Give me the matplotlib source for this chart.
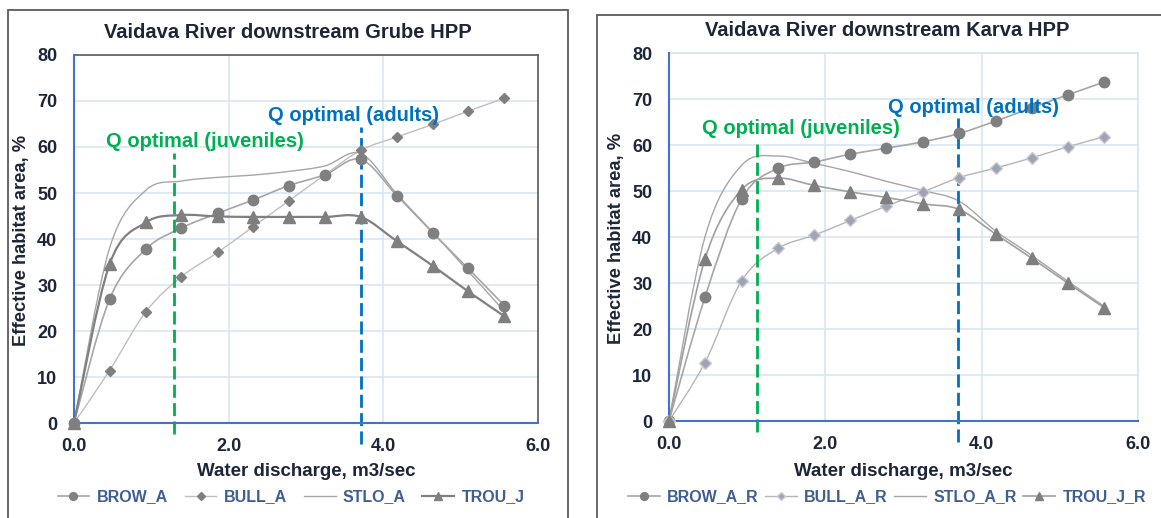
import matplotlib
matplotlib.use("Agg")
import matplotlib.pyplot as plt
from matplotlib.path import Path
from matplotlib.patches import PathPatch, Rectangle
from matplotlib.lines import Line2D
import numpy as np

plt.rcParams["font.family"] = ["Liberation Sans", "DejaVu Sans"]

# discharge steps, m3/sec (same for both sites)
discharge = [0.0, 0.46, 0.93, 1.39, 1.86, 2.32, 2.78, 3.25, 3.71, 4.18, 4.64, 5.10, 5.57]

# Grube HPP
grube_brow = [0, 26.9, 37.8, 42.4, 45.6, 48.5, 51.6, 54.0, 57.3, 49.4, 41.4, 33.6, 25.5]
grube_bull = [0, 11.4, 24.2, 31.8, 37.1, 42.7, 48.3, 54.0, 59.3, 62.2, 64.9, 67.8, 70.6]
grube_stlo = [0, 38.0, 50.6, 52.6, 53.4, 53.9, 54.7, 55.9, 58.6, 49.7, 41.5, 33.0, 24.3]
grube_trou = [0, 34.5, 43.6, 45.2, 44.9, 44.8, 44.8, 44.8, 44.8, 39.5, 34.2, 28.6, 23.2]
grube_q_juv = 1.29
grube_q_adult = 3.71

# Karva HPP
karva_brow = [0, 26.9, 48.3, 54.9, 56.3, 58.0, 59.3, 60.7, 62.5, 65.2, 68.1, 70.9, 73.7]
karva_bull = [0, 12.7, 30.5, 37.5, 40.4, 43.6, 46.7, 49.8, 52.9, 55.0, 57.2, 59.6, 61.8]
karva_stlo = [0, 40.0, 55.6, 57.6, 56.0, 54.2, 52.1, 50.1, 47.8, 41.3, 36.0, 30.4, 24.9]
karva_trou = [0, 35.2, 50.3, 52.8, 51.2, 49.8, 48.6, 47.2, 46.0, 40.6, 35.4, 30.0, 24.6]
karva_q_juv = 1.13
karva_q_adult = 3.70

TEXT_DARK = "#1c2638"
LEGEND_TXT = "#3f5f8f"
AXIS_BLUE = "#4472c4"
GRID = "#d5e5f5"
GREEN = "#00b050"
BLUE = "#0070c0"

W, H = 1161, 518
fig = plt.figure(figsize=(W / 100, H / 100), dpi=100)


def fx(px):
    return px / W


def fy(py):
    return 1 - py / H


def smooth_path(xs, ys):
    # excel-like smoothed line (catmull-rom as cubic bezier)
    pts = np.column_stack([xs, ys]).astype(float)
    n = len(pts)
    verts = [pts[0]]
    codes = [Path.MOVETO]
    for i in range(n - 1):
        p0 = pts[i - 1] if i > 0 else pts[i]
        p1 = pts[i]
        p2 = pts[i + 1]
        p3 = pts[i + 2] if i + 2 < n else pts[i + 1]
        verts += [p1 + (p2 - p0) / 6, p2 - (p3 - p1) / 6, p2]
        codes += [Path.CURVE4] * 3
    return Path(verts, codes)


def draw_series(ax, ys, line_color, lw, marker=None, mcolor=None, ms=7, mec=None):
    ax.add_patch(PathPatch(smooth_path(discharge, ys), fill=False,
                           edgecolor=line_color, lw=lw, zorder=2))
    if marker:
        ax.plot(discharge, ys, ls="none", marker=marker, ms=ms, color=mcolor,
                mec=mec or mcolor, zorder=4, clip_on=False)
    return Line2D([], [], color=line_color, lw=lw, marker=marker, ms=ms * 0.75,
                  mfc=mcolor, mec=mec or mcolor)


def setup_axes(rect, top_right_color):
    ax = fig.add_axes(rect)
    ax.set_xlim(0, 6)
    ax.set_ylim(0, 80)
    ax.set_xticks([0, 2, 4, 6])
    ax.set_xticklabels(["0.0", "2.0", "4.0", "6.0"])
    ax.set_yticks(range(0, 81, 10))
    ax.grid(True, color=GRID, lw=1.1, zorder=0)
    ax.set_axisbelow(True)
    ax.tick_params(length=0, labelsize=13, labelcolor=TEXT_DARK)
    ax.tick_params(axis="y", pad=12)
    ax.tick_params(axis="x", pad=11)
    for lab in ax.get_xticklabels() + ax.get_yticklabels():
        lab.set_fontweight("bold")
    for s in ["left", "bottom"]:
        ax.spines[s].set_color(AXIS_BLUE)
        ax.spines[s].set_linewidth(1.5)
        ax.spines[s].set_zorder(3)
    for s in ["top", "right"]:
        ax.spines[s].set_color(top_right_color)
        ax.spines[s].set_linewidth(1.2)
    return ax


def q_lines(ax, xj, xa, yj_top, ya_top):
    ax.plot([xj, xj], [-2.3, yj_top], color=GREEN, lw=2, dashes=(4.7, 1.9),
            clip_on=False, zorder=3)
    ax.plot([xa, xa], [-4.5, ya_top], color=BLUE, lw=2, dashes=(4.7, 1.9),
            clip_on=False, zorder=3)


# panel frames
fig.add_artist(Rectangle((fx(8), fy(530)), fx(560), fy(10) - fy(530),
                         fill=False, ec="#5a5a5a", lw=1.3))
fig.add_artist(Rectangle((fx(597), fy(530)), fx(600), fy(15) - fy(530),
                         fill=False, ec="#5a5a5a", lw=1.3))

# ---- Grube
ax1 = setup_axes([fx(74), fy(423), fx(537.7) - fx(74), fy(55) - fy(423)], "#5a5a5a")
h1 = [
    draw_series(ax1, grube_brow, "#a6a6a6", 1.2, "o", "#808080", 7.5),
    draw_series(ax1, grube_bull, "#bfbfbf", 1.0, "D", "#7f7f7f", 5.5),
    draw_series(ax1, grube_stlo, "#a6a6a6", 1.0),
    draw_series(ax1, grube_trou, "#808080", 1.6, "^", "#7f7f7f", 8),
]
q_lines(ax1, grube_q_juv, grube_q_adult, 58.6, 64.4)
ax1.text(1.70, 61.3, "Q optimal (juveniles)", color=GREEN, fontsize=14.5,
         fontweight="bold", ha="center", va="center", zorder=6)
ax1.text(3.62, 66.9, "Q optimal (adults)", color=BLUE, fontsize=14.5,
         fontweight="bold", ha="center", va="center", zorder=6)
fig.text(fx(288), fy(33), "Vaidava River downstream Grube HPP", fontsize=14.5,
         fontweight="bold", color=TEXT_DARK, ha="center", va="center")
fig.text(fx(22), fy(240), "Effective habitat area, %", fontsize=13.2,
         fontweight="bold", color=TEXT_DARK, rotation=90, ha="center", va="center")
fig.text(fx(306), fy(472), "Water discharge, m3/sec", fontsize=13.5,
         fontweight="bold", color=TEXT_DARK, ha="center", va="center")
fig.legend(h1, ["BROW_A", "BULL_A", "STLO_A", "TROU_J"], loc="center",
           bbox_to_anchor=(fx(291), fy(497)), ncol=4, frameon=False,
           prop={"size": 11.5, "weight": "bold"}, labelcolor=LEGEND_TXT,
           handlelength=2.0, handletextpad=0.45, columnspacing=1.05)

# ---- Karva
ax2 = setup_axes([fx(669), fy(421), fx(1138) - fx(669), fy(53) - fy(421)], GRID)
h2 = [
    draw_series(ax2, karva_brow, "#a6a6a6", 1.2, "o", "#7f7f7f", 7.5),
    draw_series(ax2, karva_bull, "#b5b5b5", 1.0, "D", "#9ea4b2", 6, "#c8ccd6"),
    draw_series(ax2, karva_stlo, "#a6a6a6", 1.0),
    draw_series(ax2, karva_trou, "#a0a0a0", 1.2, "^", "#7f7f7f", 8),
]
q_lines(ax2, karva_q_juv, karva_q_adult, 60.3, 65.8)
ax2.text(1.69, 63.5, "Q optimal (juveniles)", color=GREEN, fontsize=14.5,
         fontweight="bold", ha="center", va="center", zorder=6)
ax2.text(3.90, 68.2, "Q optimal (adults)", color=BLUE, fontsize=14.5,
         fontweight="bold", ha="center", va="center", zorder=6)
fig.text(fx(887), fy(30), "Vaidava River downstream Karva HPP", fontsize=14.5,
         fontweight="bold", color=TEXT_DARK, ha="center", va="center")
fig.text(fx(617), fy(238), "Effective habitat area, %", fontsize=13.2,
         fontweight="bold", color=TEXT_DARK, rotation=90, ha="center", va="center")
fig.text(fx(903), fy(472), "Water discharge, m3/sec", fontsize=13.5,
         fontweight="bold", color=TEXT_DARK, ha="center", va="center")
fig.legend(h2, ["BROW_A_R", "BULL_A_R", "STLO_A_R", "TROU_J_R"], loc="center",
           bbox_to_anchor=(fx(887), fy(497)), ncol=4, frameon=False,
           prop={"size": 11.5, "weight": "bold"}, labelcolor=LEGEND_TXT,
           handlelength=2.0, handletextpad=0.45, columnspacing=0.4)

fig.savefig("out.png", dpi=100)
